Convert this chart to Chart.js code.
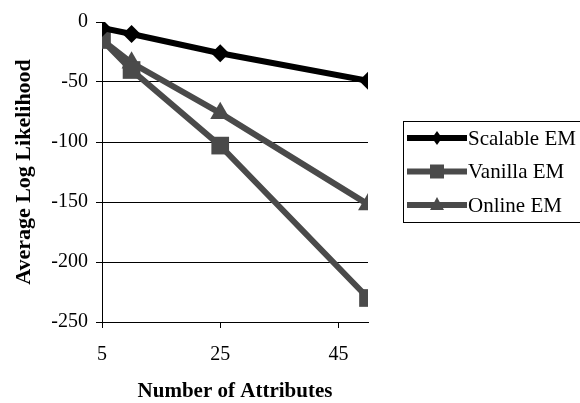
<!DOCTYPE html>
<html>
<head>
<meta charset="utf-8">
<script src="https://cdn.jsdelivr.net/npm/chart.js@4"></script>
<style>
  html, body { margin: 0; padding: 0; background: #fff; overflow: hidden; }
  #wrap { width: 580px; height: 403px; }
</style>
</head>
<body>
<div id="wrap"><canvas id="chart" width="580" height="403"></canvas></div>
<script>
const xValues = [5, 10, 25, 50];
const xTicks = [5, 25, 45];
const scalableEM = [-5, -10, -26, -49];
const vanillaEM = [-15, -40, -103, -230];
const onlineEM = [-15, -34, -76, -152];
const seriesNames = ["Scalable EM", "Vanilla EM", "Online EM"];

const FONT = "'Liberation Serif', 'Times New Roman', serif";
const BLACK = "#000000";
const GRAY = "#4a4a4a";

function toPoints(values) {
    return values.map((v, i) => ({ x: xValues[i], y: v }));
}

// legend with a frame, line sample + marker, like the original
const frameLegend = {
    id: "frameLegend",
    afterDraw(chart) {
        const c = chart.ctx;
        const left = 403, top = 121, rowH = 33.5;
        c.save();
        c.strokeStyle = "#000";
        c.lineWidth = 1;
        c.strokeRect(left + 0.5, top + 0.5, 220, 101);
        chart.data.datasets.forEach((ds, i) => {
            const y = top + 17 + i * rowH;
            c.strokeStyle = ds.borderColor;
            c.lineWidth = 6;
            c.beginPath();
            c.moveTo(407, y);
            c.lineTo(467, y);
            c.stroke();
            c.fillStyle = ds.borderColor;
            const mx = 437;
            c.beginPath();
            if (ds.pointStyle === "rectRot") {
                c.moveTo(mx, y - 7); c.lineTo(mx + 5, y); c.lineTo(mx, y + 7); c.lineTo(mx - 5, y);
            } else if (ds.pointStyle === "rect") {
                c.rect(mx - 7, y - 7, 14, 14);
            } else {
                c.moveTo(mx, y - 8); c.lineTo(mx + 7, y + 5); c.lineTo(mx - 7, y + 5);
            }
            c.closePath();
            c.fill();
            c.fillStyle = "#000";
            c.font = "21px " + FONT;
            c.textBaseline = "middle";
            c.fillText(ds.label, 468, y + 1);
        });
        c.restore();
    }
};

const ctx = document.getElementById("chart").getContext("2d");
const chart = new Chart(ctx, {
    type: "line",
    data: {
        datasets: [
            {
                label: seriesNames[0],
                data: toPoints(scalableEM),
                borderColor: BLACK,
                backgroundColor: BLACK,
                borderWidth: 6,
                pointStyle: "rectRot",
                pointRadius: 9,
                pointBorderWidth: 0
            },
            {
                label: seriesNames[1],
                data: toPoints(vanillaEM),
                borderColor: GRAY,
                backgroundColor: GRAY,
                borderWidth: 6,
                pointStyle: "rect",
                pointRadius: 12.5,
                pointBorderWidth: 0
            },
            {
                label: seriesNames[2],
                data: toPoints(onlineEM),
                borderColor: GRAY,
                backgroundColor: GRAY,
                borderWidth: 6,
                pointStyle: "triangle",
                pointRadius: 11.5,
                pointBorderWidth: 0
            }
        ]
    },
    options: {
        responsive: false,
        animation: false,
        layout: { padding: { top: 22, right: 212, bottom: 0, left: 0 } },
        plugins: {
            legend: { display: false },
            tooltip: { enabled: false }
        },
        scales: {
            x: {
                type: "linear",
                min: 5,
                max: 50,
                afterBuildTicks: (scale) => { scale.ticks = xTicks.map(v => ({ value: v })); },
                afterFit: (scale) => { scale.height = 81; },
                grid: { drawOnChartArea: false, drawTicks: true, tickLength: 6, tickColor: "#000" },
                border: { color: "#000", width: 1 },
                ticks: { color: "#000", font: { family: FONT, size: 20 }, padding: 15, maxRotation: 0 },
                title: {
                    display: true,
                    text: "Number of Attributes",
                    color: "#000",
                    font: { family: FONT, size: 21, weight: "bold" },
                    padding: { top: 0, bottom: -1 }
                }
            },
            y: {
                min: -250,
                max: 0,
                afterFit: (scale) => { scale.width = 102; },
                grid: {
                    color: (c) => (c.tick && c.tick.value < 0 && c.tick.value > -250) ? "#000" : "rgba(0,0,0,0)",
                    lineWidth: 1,
                    tickLength: 6,
                    tickColor: "#000"
                },
                border: { color: "#000", width: 1 },
                ticks: { stepSize: 50, color: "#000", font: { family: FONT, size: 20 }, padding: 8 },
                title: {
                    display: true,
                    text: "Average Log Likelihood",
                    color: "#000",
                    font: { family: FONT, size: 22, weight: "bold" },
                    padding: { top: 11, bottom: 0 }
                }
            }
        }
    },
    plugins: [frameLegend]
});
</script>
</body>
</html>
